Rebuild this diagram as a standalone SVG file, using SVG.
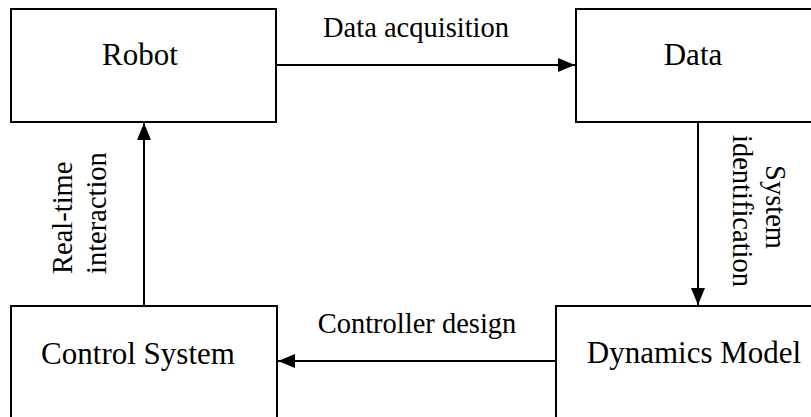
<svg xmlns="http://www.w3.org/2000/svg" width="811" height="417" viewBox="0 0 811 417">
  <style>
    .box { fill: #ffffff; stroke: #000000; stroke-width: 2; }
    .node-text { font-family: "Liberation Serif", "Times New Roman", serif; font-size: 31px; fill: #000000; text-anchor: middle; }
    .label { font-family: "Liberation Serif", "Times New Roman", serif; font-size: 28.5px; fill: #000000; text-anchor: middle; }
    .label-start { text-anchor: start; }
    .link { stroke: #000000; stroke-width: 2; fill: none; marker-end: url(#arrow); }
  </style>
  <defs>
    <marker id="arrow" markerWidth="17" markerHeight="14" refX="17" refY="7" orient="auto" markerUnits="userSpaceOnUse">
      <path d="M0,0 L17,7 L0,14 Z" fill="#000000"/>
    </marker>
  </defs>
  <rect width="811" height="417" fill="#ffffff"/>

  <g id="robot">
    <rect class="box" x="11" y="9" width="265" height="113"/>
    <text class="node-text" x="140" y="65">Robot</text>
  </g>

  <g id="data">
    <rect class="box" x="576" y="9" width="250" height="113"/>
    <text class="node-text" x="693" y="65">Data</text>
  </g>

  <g id="control-system">
    <rect class="box" x="11" y="306" width="266" height="130"/>
    <text class="node-text" x="138" y="364">Control System</text>
  </g>

  <g id="dynamics-model">
    <rect class="box" x="556" y="306" width="270" height="130"/>
    <text class="node-text" x="694" y="363">Dynamics Model</text>
  </g>

  <g id="connectors">
    <line class="link" x1="277" y1="65" x2="575" y2="65"/>
    <line class="link" x1="698" y1="123" x2="698" y2="305"/>
    <line class="link" x1="555" y1="361" x2="278" y2="361"/>
    <line class="link" x1="144" y1="305" x2="144" y2="123"/>

    <text class="label" x="416" y="37">Data acquisition</text>
    <text class="label" x="417" y="333">Controller design</text>
    <text class="label label-start" transform="translate(72,274) rotate(-90)">Real-time</text>
    <text class="label label-start" transform="translate(106,274) rotate(-90)">interaction</text>
    <text class="label" transform="translate(766,207) rotate(90)">System</text>
    <text class="label" transform="translate(733,211) rotate(90)">identification</text>
  </g>
</svg>
